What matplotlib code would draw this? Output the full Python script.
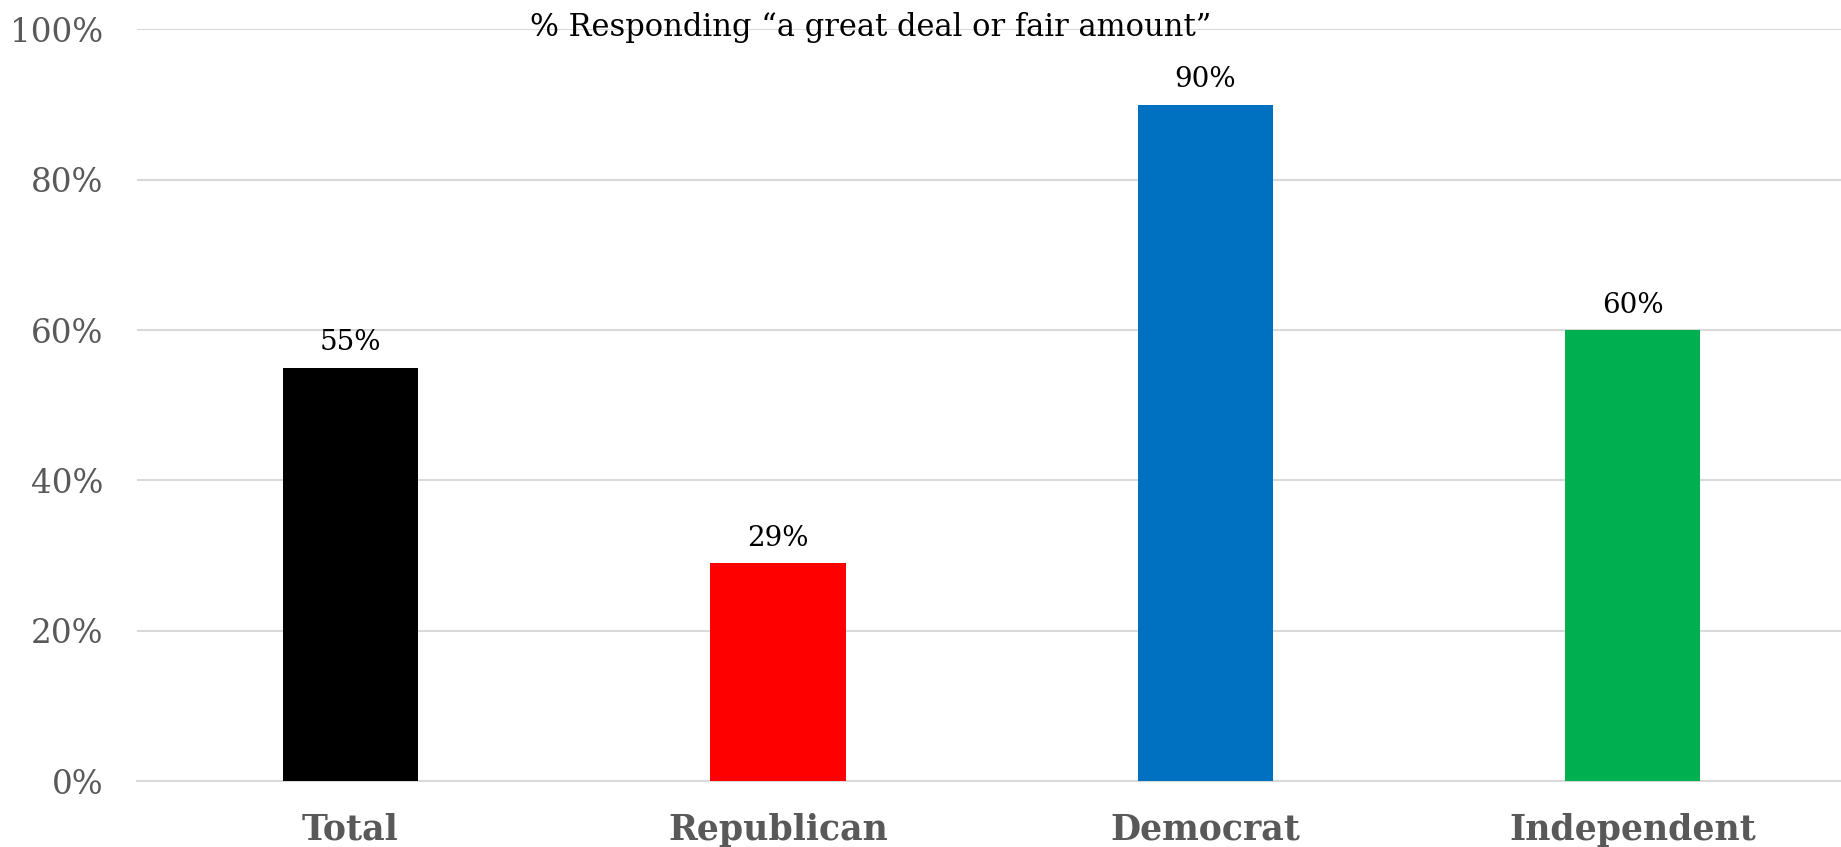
import matplotlib
matplotlib.use("Agg")
import matplotlib.pyplot as plt

# % responding "a great deal or fair amount"
groups = ["Total", "Republican", "Democrat", "Independent"]
pct = [55, 29, 90, 60]
bar_colors = ["#000000", "#FF0000", "#0070C0", "#00B050"]
y_ticks = [0, 20, 40, 60, 80, 100]

plt.rcParams['font.family'] = ['DejaVu Serif']

fig = plt.figure(figsize=(18.41, 8.47), dpi=100)
ax = fig.add_axes([0.0743, 0.0779, 0.9286, 0.8874])

x = range(len(groups))
bars = ax.bar(x, pct, width=0.317, color=bar_colors, zorder=3)

# value labels above bars
for b, v in zip(bars, pct):
    ax.text(b.get_x() + b.get_width() / 2, v + 1.5, f"{v}%",
            ha="center", va="bottom", fontsize=20, color="#000000")

ax.set_xlim(-0.5, len(groups) - 0.5)
ax.set_ylim(0, 100)
ax.set_yticks(y_ticks)
ax.set_yticklabels([f"{t}%" for t in y_ticks], fontsize=23.5, color="#595959")
ax.set_xticks(list(x))
ax.set_xticklabels(groups, fontsize=25, fontweight="bold", color="#595959")
ax.tick_params(axis="both", length=0)
ax.tick_params(axis="x", pad=23)
ax.tick_params(axis="y", pad=24)

ax.grid(axis="y", color="#D9D9D9", linewidth=1.5, zorder=0)
for s in ["top", "right", "left"]:
    ax.spines[s].set_visible(False)
ax.spines["bottom"].set_color("#D9D9D9")
ax.spines["bottom"].set_linewidth(1.5)

fig.text(0.473, 0.968, "% Responding \u201ca great deal or fair amount\u201d",
         ha="center", va="center", fontsize=22, color="#000000")

fig.savefig("out.png", dpi=100)
